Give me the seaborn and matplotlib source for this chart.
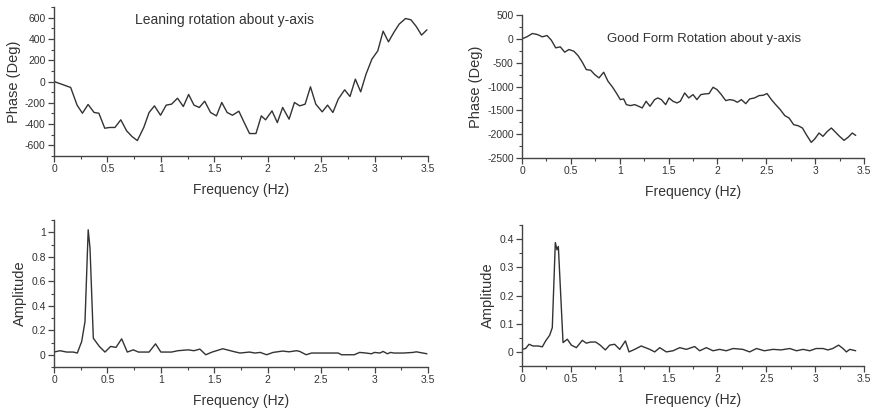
import matplotlib
matplotlib.use("Agg")
import matplotlib.pyplot as plt
from matplotlib.ticker import MultipleLocator, FormatStrFormatter, FuncFormatter
import seaborn as sns
import pandas as pd

# ---------------- data ----------------
lean_phase_f = [0.0, 0.156, 0.216, 0.266, 0.319, 0.375, 0.42, 0.475, 0.52, 0.57, 0.625, 0.68, 0.73, 0.78,
                0.84, 0.89, 0.94, 0.997, 1.05, 1.10, 1.156, 1.21, 1.26, 1.31, 1.36, 1.41, 1.465, 1.52, 1.57,
                1.62, 1.67, 1.73, 1.78, 1.83, 1.89, 1.94, 1.98, 2.04, 2.09, 2.14, 2.20, 2.25, 2.30, 2.35,
                2.40, 2.45, 2.51, 2.56, 2.61, 2.66, 2.72, 2.77, 2.82, 2.87, 2.92, 2.975, 3.03, 3.08, 3.13,
                3.18, 3.23, 3.29, 3.34, 3.39, 3.44, 3.49]
lean_phase = [0, -56, -222, -298, -216, -291, -298, -439, -432, -432, -360, -464, -517, -555,
              -432, -291, -229, -317, -222, -213, -157, -235, -122, -222, -244, -185, -291, -323, -197,
              -291, -317, -279, -386, -489, -489, -323, -360, -276, -386, -244, -354, -197, -229, -213,
              -50, -213, -285, -222, -291, -166, -78, -141, 22, -97, 69, 210, 288, 473, 373,
              461, 539, 592, 580, 517, 436, 486]

good_phase_f = [0.0, 0.05, 0.106, 0.157, 0.208, 0.256, 0.30, 0.345, 0.392, 0.437, 0.48, 0.53, 0.573, 0.617,
                0.658, 0.703, 0.744, 0.788, 0.836, 0.88, 0.925, 0.965, 1.006, 1.04, 1.068, 1.109, 1.153,
                1.194, 1.23, 1.27, 1.31, 1.357, 1.39, 1.426, 1.47, 1.505, 1.545, 1.586, 1.62, 1.665, 1.706,
                1.75, 1.79, 1.83, 1.87, 1.914, 1.955, 1.996, 2.04, 2.085, 2.126, 2.166, 2.204, 2.245, 2.29,
                2.33, 2.38, 2.426, 2.467, 2.508, 2.552, 2.596, 2.637, 2.69, 2.733, 2.78, 2.825, 2.87, 2.91,
                2.96, 2.995, 3.04, 3.08, 3.125, 3.166, 3.21, 3.25, 3.296, 3.34, 3.38, 3.415]
good_phase = [0, 42, 112, 91, 42, 70, -28, -189, -168, -280, -224, -259, -350, -490,
              -645, -659, -750, -820, -701, -890, -1009, -1135, -1275, -1261, -1380, -1401, -1380,
              -1415, -1450, -1310, -1415, -1275, -1240, -1275, -1380, -1240, -1310, -1345, -1310, -1135, -1240,
              -1170, -1275, -1170, -1156, -1149, -1016, -1065, -1170, -1296, -1275, -1289, -1331, -1275, -1360,
              -1261, -1240, -1191, -1184, -1149, -1275, -1380, -1471, -1612, -1661, -1801, -1822, -1871, -2011,
              -2172, -2102, -1976, -2046, -1941, -1871, -1962, -2046, -2130, -2060, -1976, -2025]

lean_amp_f = [0.0, 0.056, 0.118, 0.18, 0.218, 0.259, 0.29, 0.32, 0.337, 0.368, 0.424, 0.477, 0.53, 0.58,
              0.633, 0.686, 0.742, 0.79, 0.89, 0.95, 1.0, 1.10, 1.16, 1.256, 1.31, 1.365, 1.42, 1.48, 1.58,
              1.677, 1.74, 1.83, 1.88, 1.93, 1.99, 2.05, 2.14, 2.20, 2.27, 2.30, 2.36, 2.41, 2.66, 2.69,
              2.81, 2.86, 2.92, 2.97, 3.0, 3.05, 3.08, 3.12, 3.15, 3.18, 3.27, 3.36, 3.39, 3.49]
lean_amp = [0.022, 0.033, 0.022, 0.022, 0.014, 0.108, 0.27, 1.02, 0.87, 0.135, 0.068, 0.022, 0.068, 0.06,
            0.13, 0.022, 0.04, 0.022, 0.022, 0.089, 0.022, 0.022, 0.033, 0.04, 0.033, 0.046, 0.0, 0.022, 0.049,
            0.027, 0.014, 0.022, 0.014, 0.019, 0.0, 0.019, 0.03, 0.024, 0.033, 0.027, 0.0, 0.014, 0.014, 0.0,
            0.0, 0.019, 0.014, 0.008, 0.019, 0.014, 0.027, 0.008, 0.019, 0.014, 0.014, 0.019, 0.024, 0.008]

good_amp_f = [0.0, 0.037, 0.072, 0.113, 0.164, 0.208, 0.242, 0.283, 0.31, 0.341, 0.358, 0.372, 0.42, 0.464,
              0.505, 0.556, 0.617, 0.658, 0.703, 0.754, 0.80, 0.853, 0.897, 0.948, 1.0, 1.058, 1.095, 1.153,
              1.22, 1.307, 1.358, 1.41, 1.477, 1.546, 1.614, 1.682, 1.767, 1.818, 1.887, 1.955, 2.023, 2.09,
              2.16, 2.26, 2.33, 2.40, 2.48, 2.57, 2.65, 2.74, 2.81, 2.876, 2.944, 3.01, 3.08, 3.13, 3.18,
              3.24, 3.285, 3.32, 3.355, 3.415]
good_amp = [0.009, 0.012, 0.027, 0.021, 0.021, 0.018, 0.039, 0.059, 0.086, 0.388, 0.362, 0.374, 0.033, 0.045,
            0.024, 0.015, 0.041, 0.031, 0.035, 0.035, 0.024, 0.007, 0.024, 0.027, 0.009, 0.039, 0.0, 0.009,
            0.021, 0.009, 0.0, 0.015, 0.0, 0.004, 0.015, 0.009, 0.019, 0.004, 0.015, 0.004, 0.009, 0.004,
            0.012, 0.009, 0.0, 0.012, 0.004, 0.009, 0.007, 0.012, 0.004, 0.009, 0.004, 0.012, 0.012, 0.007, 0.012,
            0.024, 0.012, 0.0, 0.009, 0.004]

title_lean = "Leaning rotation about y-axis"
title_good = "Good Form Rotation about y-axis"
xlabel = "Frequency (Hz)"
ylabel_phase = "Phase (Deg)"
ylabel_amp = "Amplitude"

# ---------------- style ----------------
sns.set_style("ticks")
plt.rcParams['font.family'] = ['Liberation Sans', 'DejaVu Sans']

LINE = "#333333"
SPINE = "#444444"

fig = plt.figure(figsize=(8.8, 4.2), dpi=100)
W, H = 880, 420

def add_ax(l, t, r, b):
    return fig.add_axes([l / W, 1 - b / H, (r - l) / W, (b - t) / H])

ax1 = add_ax(54, 7, 428, 156)
ax2 = add_ax(522, 15, 864, 158)
ax3 = add_ax(54, 220, 428, 367)
ax4 = add_ax(522, 225, 864, 366)

def num_fmt(v, pos):
    s = ("%g" % round(v, 6))
    return s

panels = [
    (ax1, lean_phase_f, lean_phase, (-700, 700), 200, 100, ylabel_phase),
    (ax2, good_phase_f, good_phase, (-2500, 500), 500, 250, ylabel_phase),
    (ax3, lean_amp_f, lean_amp, (-0.1, 1.1), 0.2, 0.1, ylabel_amp),
    (ax4, good_amp_f, good_amp, (-0.05, 0.45), 0.1, 0.05, ylabel_amp),
]

for ax, xf, yv, ylim, maj, mnr, ylab in panels:
    df = pd.DataFrame({"f": xf, "v": yv})
    sns.lineplot(data=df, x="f", y="v", ax=ax, color=LINE, linewidth=1.0,
                 estimator=None, sort=False)
    ax.set_xlim(0, 3.5)
    ax.set_ylim(*ylim)
    ax.xaxis.set_major_locator(MultipleLocator(0.5))
    ax.xaxis.set_minor_locator(MultipleLocator(0.25))
    ax.yaxis.set_major_locator(MultipleLocator(maj))
    ax.yaxis.set_minor_locator(MultipleLocator(mnr))
    ax.xaxis.set_major_formatter(FuncFormatter(num_fmt))
    ax.yaxis.set_major_formatter(FuncFormatter(num_fmt))
    if ylim[1] == 700:
        ax.set_yticks([-600, -400, -200, 0, 200, 400, 600])
    if ylim[1] == 1.1:
        ax.set_yticks([0, 0.2, 0.4, 0.6, 0.8, 1.0])
    if ylim[1] == 0.45:
        ax.set_yticks([0, 0.1, 0.2, 0.3, 0.4])
    ax.tick_params(axis="both", which="major", direction="out", length=4, width=0.9,
                   colors=SPINE, labelcolor="#333333", labelsize=7.5, pad=2)
    ax.tick_params(axis="both", which="minor", direction="out", length=2, width=0.8, colors=SPINE)
    sns.despine(ax=ax)
    for s in ("left", "bottom"):
        ax.spines[s].set_color(SPINE)
        ax.spines[s].set_linewidth(1.0)
    ax.set_xlabel(xlabel, fontsize=10, color="#333333", labelpad=6)
    ax.set_ylabel(ylab, fontsize=10.5, color="#333333", labelpad=3)

ax1.text(1.6, 580, title_lean, ha="center", va="center", fontsize=10, color="#333333")
ax2.text(1.86, 0, title_good, ha="center", va="center", fontsize=9.5, color="#333333")

fig.savefig("out.png", dpi=100)
